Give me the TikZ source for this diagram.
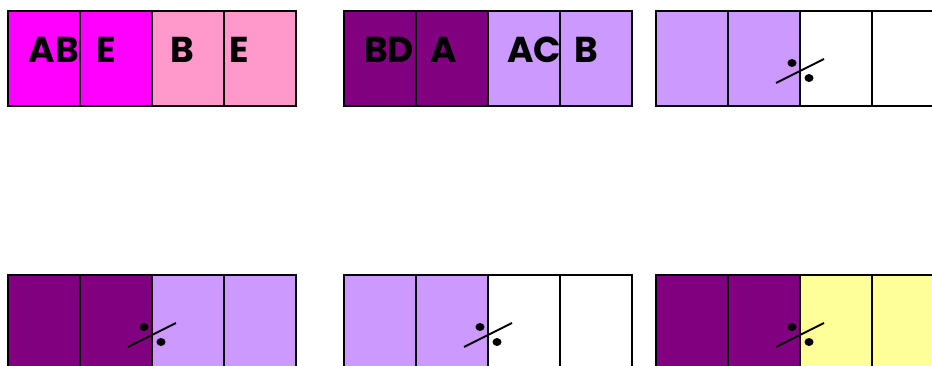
\documentclass[tikz,border=0pt]{standalone}
\usepackage{fontspec}
\setmainfont{Poppins}
\definecolor{cMag}{HTML}{FF00FF}
\definecolor{cPink}{HTML}{FF99CC}
\definecolor{cPurple}{HTML}{800080}
\definecolor{cLav}{HTML}{CC99FF}
\definecolor{cYel}{HTML}{FFFF99}
\tikzset{
  divider/.style={draw=black, line width=1.4pt},
  frame/.style={draw=black, line width=2pt},
  lbl/.style={font=\bfseries\fontsize{27}{27}\selectfont, anchor=base, inner sep=0pt},
  slashline/.style={draw=black, line width=1.4pt},
  dotmark/.style={fill=black}
}
\newcommand\myblock[4]{%
  \fill[#3] (#1,#2) rectangle ++(144,95);
  \fill[#4] (#1+144,#2) rectangle ++(144,95);
  \foreach \k in {72,144,216} \draw[divider] (#1+\k,#2) -- ++(0,95);
  \draw[frame] (#1,#2) rectangle ++(288,95);
}
\newcommand\myslash[2]{%
  \draw[slashline] (#1-24,#2+12) -- (#1+24,#2-12);
  \fill[dotmark] (#1-8,#2-8) ellipse [x radius=4.5, y radius=4];
  \fill[dotmark] (#1+9,#2+7) ellipse [x radius=4.5, y radius=4];
}
\begin{document}
\begin{tikzpicture}[x=0.75pt,y=-0.75pt]
\useasboundingbox (0,0) rectangle (932,365);
\fill[white] (0,0) rectangle (932,365);
\clip (0,0) rectangle (932,365);
% top row
\myblock{8}{11}{cMag}{cPink}
\myblock{344}{11}{cPurple}{cLav}
\myblock{656}{11}{cLav}{white}
% bottom row
\myblock{8}{275}{cPurple}{cLav}
\myblock{344}{275}{cLav}{white}
\myblock{656}{275}{cPurple}{cYel}
% labels
\node[lbl] (t1) at (54,62) {AB};
\node[lbl] (t2) at (106,62) {E};
\node[lbl] (t3) at (182.5,62) {B};
\node[lbl] (t4) at (239,62) {E};
\node[lbl] (t5) at (389,62) {BD};
\node[lbl] (t6) at (444,62) {A};
\node[lbl] (t7) at (534,62) {AC};
\node[lbl] (t8) at (586.5,62) {B};
% slashes
\myslash{800}{71}
\myslash{152}{335}
\myslash{488}{335}
\myslash{800}{335}
\end{tikzpicture}
\end{document}
